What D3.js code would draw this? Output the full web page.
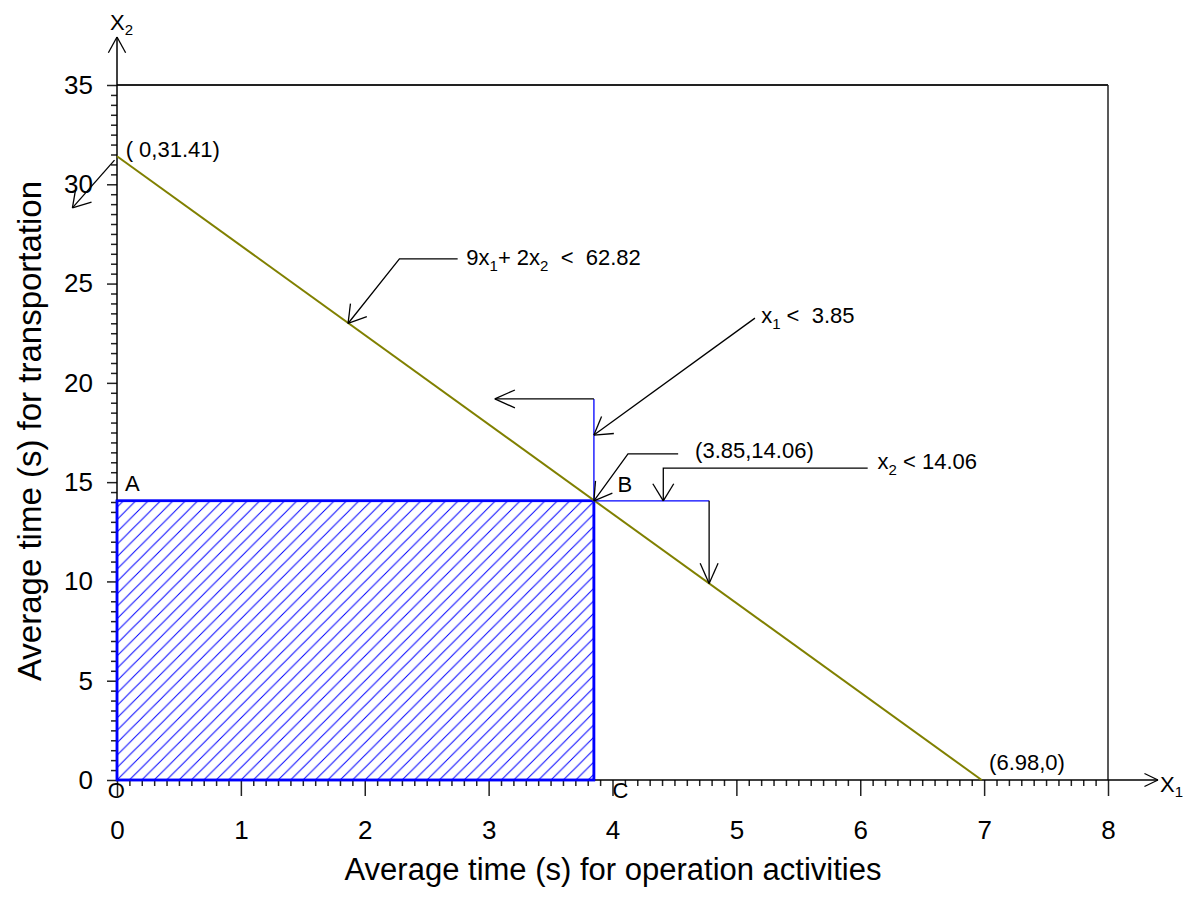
<!DOCTYPE html>
<html>
<head>
<meta charset="utf-8">
<script src="https://cdn.jsdelivr.net/npm/d3@7"></script>
<style>
  body { margin: 0; background: #fff; }
  svg { font-family: "Liberation Sans", Arial, sans-serif; }
  text { white-space: pre; }
</style>
</head>
<body>
<svg id="chart" width="1195" height="897"></svg>
<script>
// axis ticks
const xTicks = [0, 1, 2, 3, 4, 5, 6, 7, 8];
const yTicks = [0, 5, 10, 15, 20, 25, 30, 35];

// constraint line 9x1 + 2x2 = 62.82, end points
const constraintLine = [[0, 31.41], [6.98, 0]];

// feasible region (x1 <= 3.85, x2 <= 14.06)
const feasibleCorner = [3.85, 14.06];

// direction arrows for the bounds: [start, bend, end]
const x1Bound = [[3.85, 14.06], [3.85, 19.19], [3.05, 19.19]];
const x2Bound = [[3.85, 14.06], [4.78, 14.06], [4.78, 9.9]];

// callout leaders (data units), the arrow points at the last point
const leaders = [
    [[-0.02, 31.22], [-0.36, 28.81]],
    [[2.75, 26.24], [2.28, 26.24], [1.865, 22.99]],
    [[5.15, 23.26], [3.85, 17.37]],
    [[4.53, 16.42], [4.125, 16.42], [3.85, 14.06]],
    [[6.06, 15.71], [4.41, 15.71], [4.41, 14.06]]
];

// text labels: [x, y, parts]  parts: [text, isSubscript]
const labels = [
    [0.07, 31.37, [["( 0,31.41)", 0]]],
    [2.82, 25.95, [["9x", 0], ["1", 1], ["+ 2x", 0], ["2", 1], ["  <  62.82", 0]]],
    [5.2, 23.0, [["x", 0], ["1", 1], [" <  3.85", 0]]],
    [4.667, 16.2, [["(3.85,14.06)", 0]]],
    [6.14, 15.67, [["x", 0], ["2", 1], [" < 14.06", 0]]],
    [0.065, 14.55, [["A", 0]]],
    [4.04, 14.5, [["B", 0]]],
    [4.0, -0.9, [["C", 0]]],
    [-0.075, -0.9, [["O", 0]]],
    [7.04, 0.5, [["(6.98,0)", 0]]]
];

const svg = d3.select("#chart");

const x = d3.scaleLinear().domain([0, 8]).range([117, 1108]);
const y = d3.scaleLinear().domain([0, 35]).range([780, 85]);

// hatch pattern
const hs = 12.4;
svg.append("defs").append("pattern")
    .attr("id", "hatch")
    .attr("patternUnits", "userSpaceOnUse")
    .attr("x", x(0))
    .attr("y", y(0))
    .attr("width", hs)
    .attr("height", hs)
    .append("path")
    .attr("d", `M-1,1 l2,-2 M0,${hs} L${hs},0 M${hs - 1},${hs + 1} l2,-2`)
    .attr("stroke", "#0000ff")
    .attr("stroke-width", 1);

// frame (top and right)
svg.append("line")
    .attr("x1", x(0)).attr("x2", x(8))
    .attr("y1", y(35)).attr("y2", y(35))
    .attr("stroke", "#222").attr("stroke-width", 2);
svg.append("line")
    .attr("x1", x(8)).attr("x2", x(8))
    .attr("y1", y(35)).attr("y2", y(0))
    .attr("stroke", "#222").attr("stroke-width", 1.5);

// feasible region
svg.append("rect")
    .attr("x", x(0))
    .attr("y", y(feasibleCorner[1]))
    .attr("width", x(feasibleCorner[0]) - x(0))
    .attr("height", y(0) - y(feasibleCorner[1]))
    .attr("fill", "url(#hatch)")
    .attr("stroke", "#0000ff")
    .attr("stroke-width", 2.5);

// axes
const xMinor = d3.range(0, 80).map(i => i / 10).filter(v => !xTicks.includes(v));
const yMinor = d3.range(0, 70).map(i => i / 2).filter(v => !yTicks.includes(v));

svg.append("g")
    .attr("transform", `translate(0,${y(0)})`)
    .call(d3.axisBottom(x).tickValues(xTicks).tickSize(16).tickPadding(25).tickFormat(d3.format("d")));
svg.append("g")
    .attr("transform", `translate(0,${y(0)})`)
    .call(d3.axisBottom(x).tickValues(xMinor).tickSize(6).tickFormat(""));

svg.append("g")
    .attr("transform", `translate(${x(0)},0)`)
    .call(d3.axisLeft(y).tickValues(yTicks).tickSize(10).tickPadding(14).tickFormat(d3.format("d")));
svg.append("g")
    .attr("transform", `translate(${x(0)},0)`)
    .call(d3.axisLeft(y).tickValues(yMinor).tickSize(6).tickFormat(""));

svg.selectAll(".domain").remove();
svg.selectAll(".tick line").attr("stroke", "#222").attr("stroke-width", 1.5);
svg.selectAll(".tick text")
    .attr("fill", "#000")
    .style("font-size", "26px")
    .style("font-family", "'Liberation Sans', Arial, sans-serif");

// arrow helper, open arrowhead at (x2, y2)
function arrowHead(g, x1, y1, x2, y2, len, ang) {
    const a = Math.atan2(y1 - y2, x1 - x2);
    [-ang, ang].forEach(d => {
        g.append("line")
            .attr("x1", x2).attr("y1", y2)
            .attr("x2", x2 + len * Math.cos(a + d))
            .attr("y2", y2 + len * Math.sin(a + d))
            .attr("stroke", "#000").attr("stroke-width", 1.3);
    });
}

// axis lines with arrows
const ax = svg.append("g");
ax.append("line")
    .attr("x1", x(0)).attr("x2", 1158)
    .attr("y1", y(0)).attr("y2", y(0))
    .attr("stroke", "#000").attr("stroke-width", 1.5);
arrowHead(ax, x(0), y(0), 1158, y(0), 15, 0.45);
ax.append("line")
    .attr("x1", x(0)).attr("x2", x(0))
    .attr("y1", y(0)).attr("y2", 37)
    .attr("stroke", "#000").attr("stroke-width", 1.5);
arrowHead(ax, x(0), y(0), x(0), 37, 18, 0.5);

// re-draw the region border on top of the axes
svg.append("rect")
    .attr("x", x(0))
    .attr("y", y(feasibleCorner[1]))
    .attr("width", x(feasibleCorner[0]) - x(0))
    .attr("height", y(0) - y(feasibleCorner[1]))
    .attr("fill", "none")
    .attr("stroke", "#0000ff")
    .attr("stroke-width", 2.5);

// constraint line
svg.append("line")
    .attr("x1", x(constraintLine[0][0])).attr("y1", y(constraintLine[0][1]))
    .attr("x2", x(constraintLine[1][0])).attr("y2", y(constraintLine[1][1]))
    .attr("stroke", "#808000").attr("stroke-width", 2);

// bound direction arrows: blue part then black arrow
const bounds = svg.append("g");
[x1Bound, x2Bound].forEach(b => {
    bounds.append("line")
        .attr("x1", x(b[0][0])).attr("y1", y(b[0][1]))
        .attr("x2", x(b[1][0])).attr("y2", y(b[1][1]))
        .attr("stroke", "#0000ff").attr("stroke-width", 1.3);
    bounds.append("line")
        .attr("x1", x(b[1][0])).attr("y1", y(b[1][1]))
        .attr("x2", x(b[2][0])).attr("y2", y(b[2][1]))
        .attr("stroke", "#000").attr("stroke-width", 1.3);
    arrowHead(bounds, x(b[1][0]), y(b[1][1]), x(b[2][0]), y(b[2][1]), 22, 0.42);
});

// callout leaders
const lead = svg.append("g");
const lineGen = d3.line().x(d => x(d[0])).y(d => y(d[1]));
leaders.forEach(pts => {
    lead.append("path")
        .attr("d", lineGen(pts))
        .attr("fill", "none")
        .attr("stroke", "#000").attr("stroke-width", 1.3);
    const p = pts[pts.length - 2], q = pts[pts.length - 1];
    arrowHead(lead, x(p[0]), y(p[1]), x(q[0]), y(q[1]), 20, 0.55);
});

// text labels, subscripts shifted down
labels.forEach(([lx, ly, parts]) => {
    const t = svg.append("text")
        .attr("x", x(lx)).attr("y", y(ly))
        .style("font-size", "22px");
    let shift = 0;
    parts.forEach(([s, sub]) => {
        const dy = sub ? 6 - shift : -shift;
        shift = sub ? 6 : 0;
        t.append("tspan")
            .attr("dy", dy)
            .style("font-size", sub ? "15px" : "22px")
            .text(s);
    });
});

// axis end labels
const x2Lab = svg.append("text").attr("x", 110).attr("y", 30).style("font-size", "22px");
x2Lab.append("tspan").text("X");
x2Lab.append("tspan").attr("dy", 5).style("font-size", "15px").text("2");
const x1Lab = svg.append("text").attr("x", 1160).attr("y", 792).style("font-size", "22px");
x1Lab.append("tspan").text("X");
x1Lab.append("tspan").attr("dy", 5).style("font-size", "15px").text("1");

// axis titles
svg.append("text")
    .attr("x", 613).attr("y", 880)
    .attr("text-anchor", "middle")
    .style("font-size", "31px")
    .text("Average time (s) for operation activities");
svg.append("text")
    .attr("transform", "translate(41,431) rotate(-90)")
    .attr("text-anchor", "middle")
    .style("font-size", "33px")
    .text("Average time (s) for transportation");
</script>
</body>
</html>
